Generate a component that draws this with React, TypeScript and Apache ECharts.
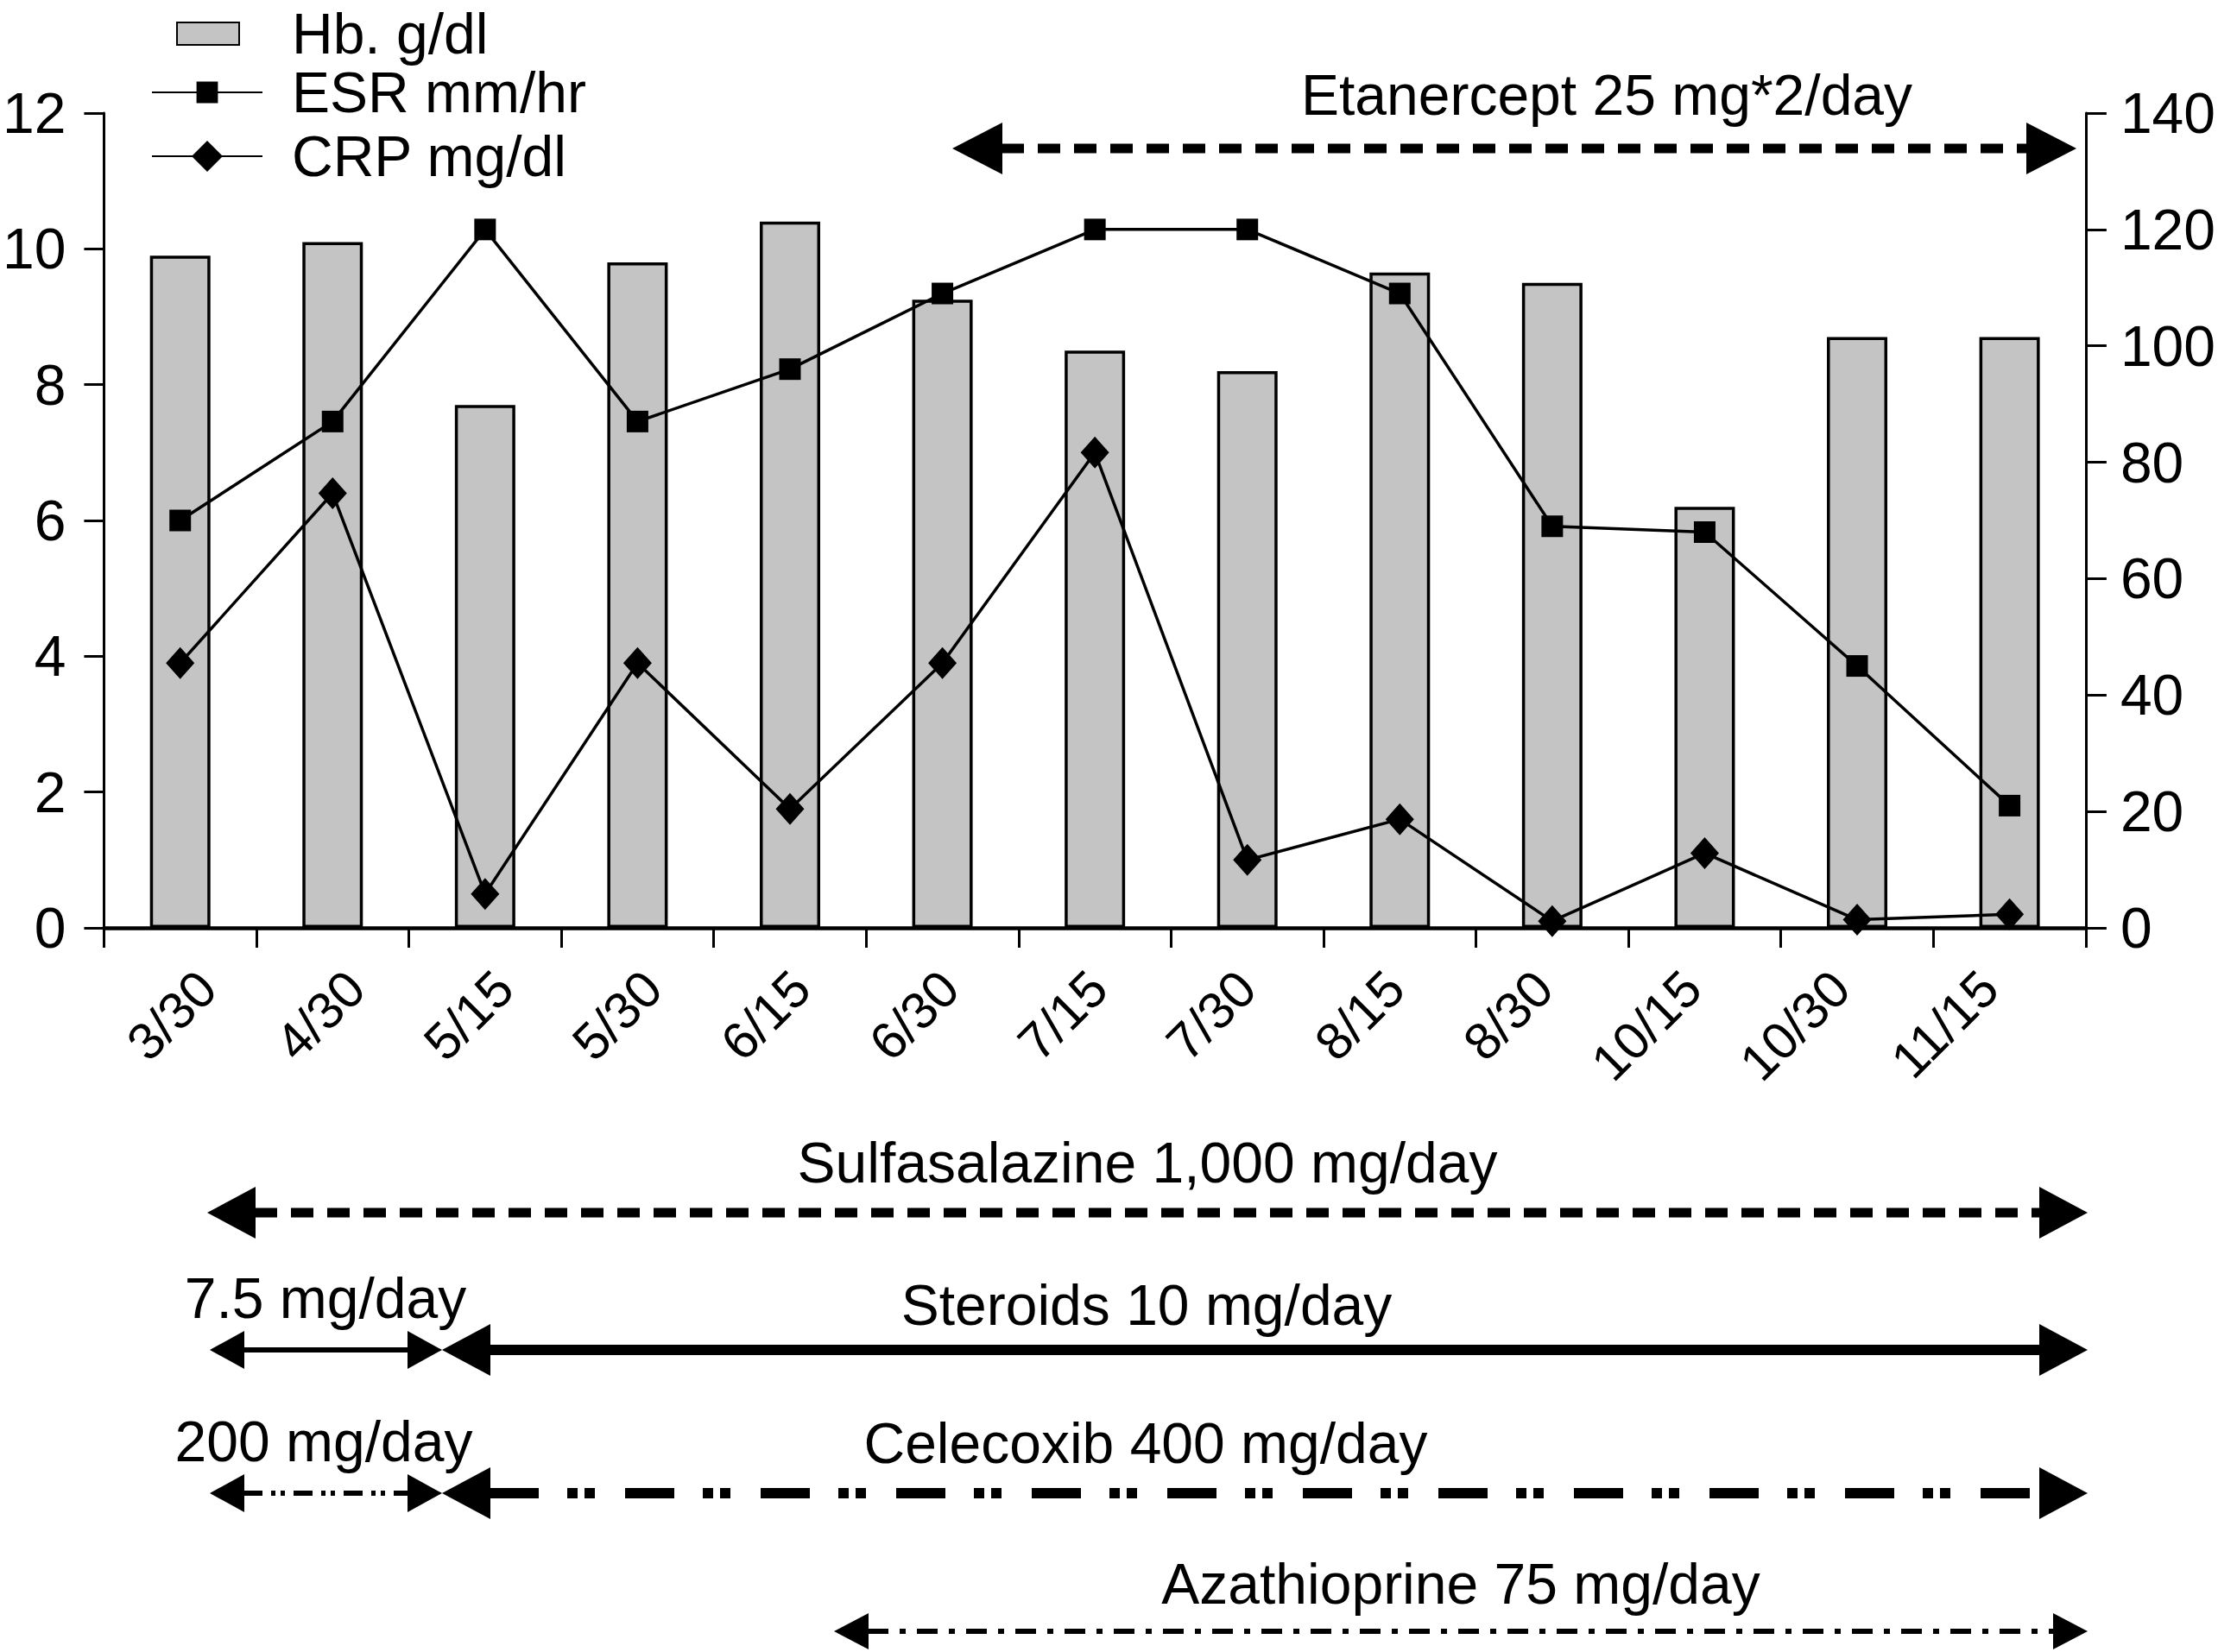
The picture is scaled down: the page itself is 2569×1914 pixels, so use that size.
import React, { useEffect, useRef } from "react";
import * as echarts from "echarts";

// ---- data ----
const categories = ["3/30", "4/30", "5/15", "5/30", "6/15", "6/30", "7/15", "7/30", "8/15", "8/30", "10/15", "10/30", "11/15"];
const hbValues = [9.9, 10.1, 7.7, 9.8, 10.4, 9.25, 8.5, 8.2, 9.65, 9.5, 6.2, 8.7, 8.7];
const esrValues = [70, 87, 120, 87, 96, 109, 120, 120, 109, 69, 68, 45, 21];
const crpValues = [3.9, 6.4, 0.5, 3.9, 1.75, 3.9, 7.0, 1.0, 1.6, 0.1, 1.1, 0.12, 0.2];
const seriesNames = ["Hb. g/dl", "ESR mm/hr", "CRP mg/dl"];
const leftAxisRange = [0, 12, 2];
const rightAxisRange = [0, 140, 20];
const treatmentLabels = [
  "Etanercept 25 mg*2/day",
  "Sulfasalazine 1,000 mg/day",
  "7.5 mg/day",
  "Steroids 10 mg/day",
  "200 mg/day",
  "Celecoxib 400 mg/day",
  "Azathioprine 75 mg/day",
];

const FONT = "'Liberation Sans', Arial, Helvetica, sans-serif";

function arrowElems(x1: number, x2: number, y: number, headL: number, headH: number, lw: number, dash: number[] | null) {
  return [
    {
      type: "line",
      silent: true,
      shape: { x1: x1 + headL - 1, y1: y, x2: x2 - headL + 1, y2: y },
      style: { stroke: "#000", lineWidth: lw, lineDash: dash || undefined, lineCap: "butt" },
    },
    {
      type: "polygon",
      silent: true,
      shape: { points: [[x1, y], [x1 + headL, y - headH], [x1 + headL, y + headH]] },
      style: { fill: "#000" },
    },
    {
      type: "polygon",
      silent: true,
      shape: { points: [[x2, y], [x2 - headL, y - headH], [x2 - headL, y + headH]] },
      style: { fill: "#000" },
    },
  ];
}

function textElem(text: string, x: number, y: number) {
  return {
    type: "text",
    x,
    y,
    silent: true,
    style: {
      text,
      fill: "#000",
      font: `66px ${FONT}`,
      align: "center",
      verticalAlign: "middle",
    },
  };
}

export default function App() {
  const ref = useRef<HTMLDivElement>(null);

  useEffect(() => {
    if (!ref.current) return;
    const chart = echarts.init(ref.current, null, { renderer: "svg" });

    const bigDash = [26, 16];
    const celeDash = [57, 33, 12, 8, 12, 35];
    const celeSmallDash = [22, 10, 5, 6, 5, 10];
    const azaDash = [24, 13, 7, 13];

    const graphics: any[] = [
      textElem(treatmentLabels[0], 1861, 110),
      ...arrowElems(1103, 2405, 172, 58, 30, 11, bigDash),
      textElem(treatmentLabels[1], 1329, 1347),
      ...arrowElems(240, 2418, 1405, 56, 30, 11, bigDash),
      textElem(treatmentLabels[2], 377, 1504),
      ...arrowElems(243, 512, 1564, 40, 22, 6, null),
      textElem(treatmentLabels[3], 1328, 1512),
      ...arrowElems(512, 2418, 1564, 56, 30, 12, null),
      textElem(treatmentLabels[4], 375, 1670),
      ...arrowElems(243, 512, 1730, 40, 22, 6, celeSmallDash),
      textElem(treatmentLabels[5], 1327, 1672),
      ...arrowElems(512, 2418, 1730, 56, 30, 12, celeDash),
      textElem(treatmentLabels[6], 1692, 1835),
      ...arrowElems(966, 2418, 1890, 40, 21, 6, azaDash),
    ];

    const axisLabelBase = { color: "#000", fontFamily: FONT, fontSize: 66 };
    const legendText = (lineHeight: number, padLeft: number) => ({
      fontSize: 66,
      color: "#000",
      fontFamily: FONT,
      lineHeight,
      padding: [0, 0, 0, padLeft],
    });

    chart.setOption({
      animation: false,
      backgroundColor: "#fff",
      textStyle: { fontFamily: FONT, color: "#000" },
      grid: [
        { left: 111, top: 131, width: 2307, height: 944, containLabel: false },
        // second grid only carries the rotated date labels (slightly tighter spacing, as in the original)
        { left: 133, top: 131, width: 2236, height: 944, containLabel: false },
      ],
      legend: [
        {
          data: [{ name: seriesNames[0], icon: "rect" }],
          left: 199,
          top: 1,
          itemWidth: 72,
          itemHeight: 26,
          selectedMode: false,
          textStyle: legendText(52, 56),
        },
        {
          data: [seriesNames[1]],
          left: 170,
          top: 69,
          itemWidth: 128,
          itemHeight: 31,
          selectedMode: false,
          textStyle: legendText(66, 29),
        },
        {
          data: [seriesNames[2]],
          left: 170,
          top: 143,
          itemWidth: 128,
          itemHeight: 45,
          selectedMode: false,
          textStyle: legendText(66, 29),
        },
      ],
      xAxis: [
        {
          type: "category",
          gridIndex: 0,
          data: categories,
          boundaryGap: true,
          axisLine: { show: true, lineStyle: { color: "#000", width: 4.5 } },
          axisTick: { show: true, interval: 0, length: 23, lineStyle: { color: "#000", width: 3 } },
          axisLabel: { show: false },
          splitLine: { show: false },
        },
        {
          type: "category",
          gridIndex: 1,
          data: categories,
          boundaryGap: true,
          axisLine: { show: false },
          axisTick: { show: false },
          axisLabel: {
            interval: 0,
            rotate: 45,
            margin: 39,
            color: "#000",
            fontFamily: FONT,
            fontSize: 60,
            align: "right",
            verticalAlign: "top",
          },
          splitLine: { show: false },
        },
      ],
      yAxis: [
        {
          type: "value",
          gridIndex: 0,
          min: leftAxisRange[0],
          max: leftAxisRange[1],
          interval: leftAxisRange[2],
          position: "left",
          axisLine: { show: true, lineStyle: { color: "#000", width: 3 } },
          axisTick: { show: true, length: 23, lineStyle: { color: "#000", width: 3 } },
          axisLabel: { ...axisLabelBase, margin: 44 },
          splitLine: { show: false },
        },
        {
          type: "value",
          gridIndex: 0,
          min: rightAxisRange[0],
          max: rightAxisRange[1],
          interval: rightAxisRange[2],
          position: "right",
          axisLine: { show: true, lineStyle: { color: "#000", width: 3 } },
          axisTick: { show: true, length: 24, lineStyle: { color: "#000", width: 3 } },
          axisLabel: { ...axisLabelBase, margin: 40 },
          splitLine: { show: false },
        },
        {
          type: "value",
          gridIndex: 1,
          show: false,
          min: leftAxisRange[0],
          max: leftAxisRange[1],
          interval: leftAxisRange[2],
        },
      ],
      series: [
        {
          name: seriesNames[0],
          type: "bar",
          xAxisIndex: 0,
          yAxisIndex: 0,
          data: hbValues,
          barWidth: 70,
          itemStyle: { color: "#c3c4c3", borderColor: "#000", borderWidth: 3.5 },
          z: 2,
        },
        {
          name: seriesNames[1],
          type: "line",
          xAxisIndex: 0,
          yAxisIndex: 1,
          data: esrValues,
          symbol: "rect",
          symbolSize: 25,
          lineStyle: { color: "#000", width: 3.5 },
          itemStyle: { color: "#000" },
          z: 4,
        },
        {
          name: seriesNames[2],
          type: "line",
          xAxisIndex: 0,
          yAxisIndex: 0,
          data: crpValues,
          symbol: "diamond",
          symbolSize: [33, 37],
          lineStyle: { color: "#000", width: 3.5 },
          itemStyle: { color: "#000" },
          z: 4,
        },
      ],
      graphic: { elements: graphics },
    });

    return () => chart.dispose();
  }, []);

  return (
    <div
      ref={ref}
      style={{ position: "fixed", left: 0, top: 0, width: 2569, height: 1914, background: "#fff" }}
    />
  );
}
